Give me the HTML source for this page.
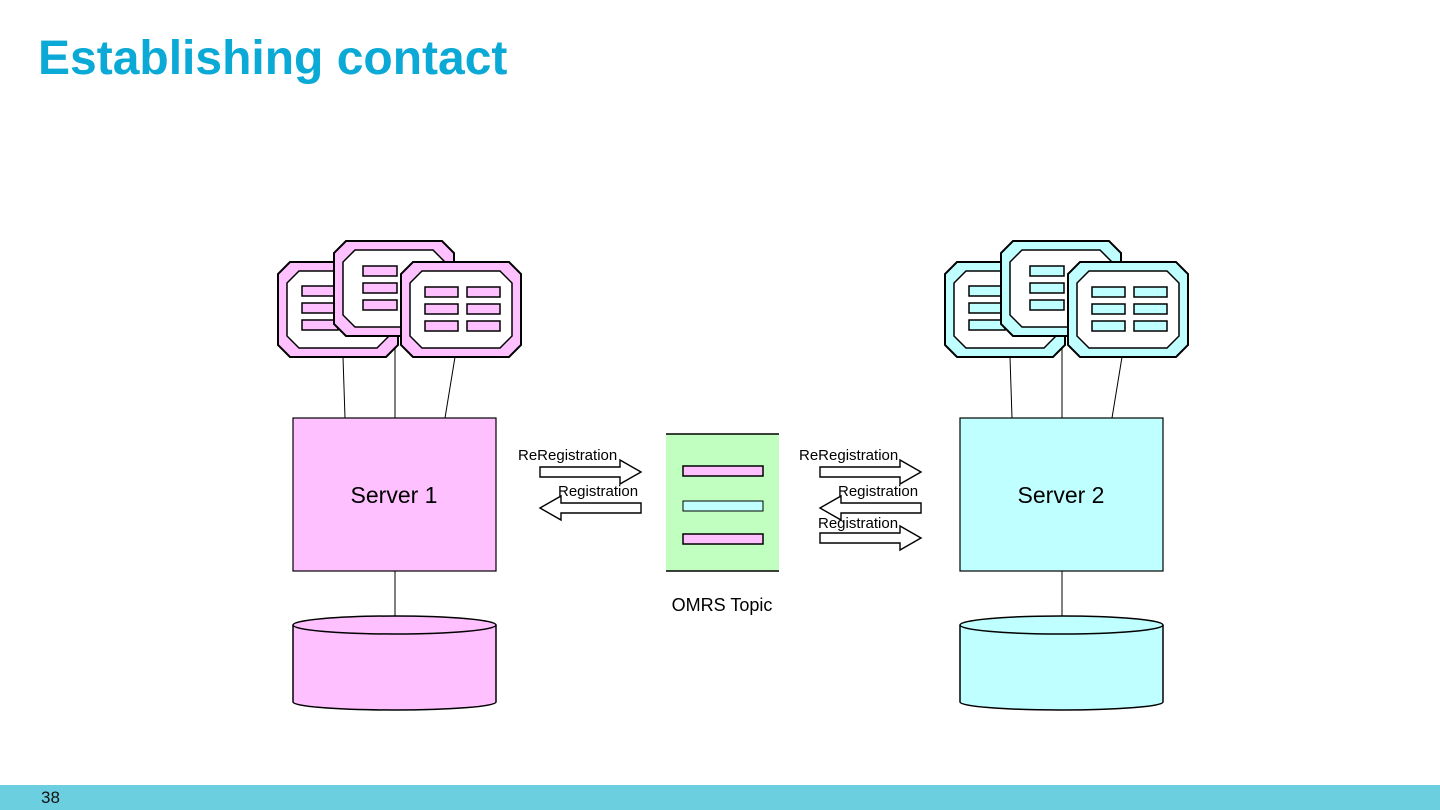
<!DOCTYPE html>
<html><head><style>
body{margin:0;width:1440px;height:810px;overflow:hidden;background:#fff;font-family:"Liberation Sans",sans-serif;position:relative}
h1{position:absolute;left:38px;top:31px;margin:0;font-size:48px;font-weight:bold;color:#0aa9d6}
.foot{position:absolute;left:0;top:785px;width:1440px;height:25px;background:#6ccfe0}
.foot span{position:absolute;left:41px;top:3px;font-size:17px;color:#111}
svg{position:absolute;left:0;top:0}
</style></head><body>
<h1>Establishing contact</h1>
<svg width="1440" height="810" viewBox="0 0 1440 810" font-family="Liberation Sans, sans-serif">
<defs>
<g id="frame">
<path d="M12,0H108L120,12V83L108,95H12L0,83V12Z" stroke="#000" stroke-width="2"/>
<path d="M21,9H99L111,21V74L99,86H21L9,74V21Z" fill="#fff" stroke="#000" stroke-width="1.5"/>
</g>
<g id="cardA"><use href="#frame"/>
<rect x="24" y="24" width="36" height="10" stroke="#000" stroke-width="1.5"/><rect x="24" y="41" width="36" height="10" stroke="#000" stroke-width="1.5"/><rect x="24" y="58" width="36" height="10" stroke="#000" stroke-width="1.5"/></g>
<g id="cardB"><use href="#frame"/>
<rect x="29" y="25" width="34" height="10" stroke="#000" stroke-width="1.5"/><rect x="29" y="42" width="34" height="10" stroke="#000" stroke-width="1.5"/><rect x="29" y="59" width="34" height="10" stroke="#000" stroke-width="1.5"/></g>
<g id="cardC"><use href="#frame"/>
<rect x="24" y="25" width="33" height="10" stroke="#000" stroke-width="1.5"/><rect x="66" y="25" width="33" height="10" stroke="#000" stroke-width="1.5"/>
<rect x="24" y="42" width="33" height="10" stroke="#000" stroke-width="1.5"/><rect x="66" y="42" width="33" height="10" stroke="#000" stroke-width="1.5"/>
<rect x="24" y="59" width="33" height="10" stroke="#000" stroke-width="1.5"/><rect x="66" y="59" width="33" height="10" stroke="#000" stroke-width="1.5"/></g>
<g id="server">
<line x1="343" y1="357" x2="345" y2="418" stroke="#000"/>
<line x1="395" y1="336" x2="395" y2="418" stroke="#000"/>
<line x1="455" y1="357" x2="445" y2="418" stroke="#000"/>
<use href="#cardA" x="278" y="262"/>
<use href="#cardB" x="334" y="241"/>
<use href="#cardC" x="401" y="262"/>
<rect x="293" y="418" width="203" height="153" stroke="#000" stroke-width="1.2"/>
<line x1="395" y1="571" x2="395" y2="618" stroke="#000"/>
<path d="M293,625V702A101.5,8 0 0 0 496,702V625" stroke="#000" stroke-width="1.5"/>
<ellipse cx="394.5" cy="625" rx="101.5" ry="9" stroke="#000" stroke-width="1.5"/>
</g>
<g id="ar" fill="#fff" stroke="#000" stroke-width="1.4"><path d="M0,-5H80V-12L101,0L80,12V5H0Z"/></g>
<g id="al" fill="#fff" stroke="#000" stroke-width="1.4"><path d="M101,-5H21V-12L0,0L21,12V5H101Z"/></g>
</defs>
<use href="#server" fill="#ffc0ff"/>
<use href="#server" fill="#c0ffff" x="667"/>
<text x="394" y="503" font-size="23" text-anchor="middle">Server 1</text>
<text x="1061" y="503" font-size="23" text-anchor="middle">Server 2</text>
<rect x="666" y="434" width="113" height="137" fill="#c0ffc0"/>
<line x1="666" y1="434" x2="779" y2="434" stroke="#000" stroke-width="1.5"/>
<line x1="666" y1="571" x2="779" y2="571" stroke="#000" stroke-width="1.5"/>
<rect x="683" y="466" width="80" height="10" fill="#ffc0ff" stroke="#000" stroke-width="1.5"/>
<rect x="683" y="501" width="80" height="10" fill="#c0ffff" stroke="#000" stroke-width="1"/>
<rect x="683" y="534" width="80" height="10" fill="#ffc0ff" stroke="#000" stroke-width="1.5"/>
<text x="722" y="611" font-size="18" text-anchor="middle">OMRS Topic</text>
<g font-size="15">
<text x="518" y="460">ReRegistration</text>
<text x="558" y="496">Registration</text>
<text x="799" y="460">ReRegistration</text>
<text x="838" y="496">Registration</text>
<text x="818" y="528">Registration</text>
</g>
<use href="#ar" x="540" y="472"/>
<use href="#al" x="540" y="508"/>
<use href="#ar" x="820" y="472"/>
<use href="#al" x="820" y="508"/>
<use href="#ar" x="820" y="538"/>
</svg>
<div class="foot"><span>38</span></div>
</body></html>
